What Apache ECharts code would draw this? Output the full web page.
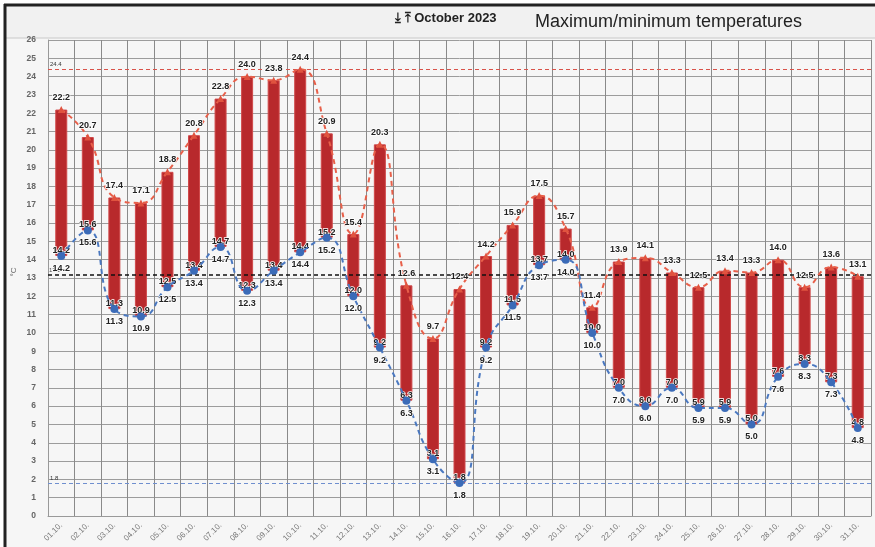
<!DOCTYPE html>
<html>
<head>
<meta charset="utf-8">
<script src="https://cdn.jsdelivr.net/npm/echarts@6/dist/echarts.min.js"></script>
<style>
html,body{margin:0;padding:0;background:#ffffff;}
#c{width:875px;height:547px;}
</style>
</head>
<body>
<div id="c"></div>
<script>
const categories = ["01.10.","02.10.","03.10.","04.10.","05.10.","06.10.","07.10.","08.10.","09.10.","10.10.","11.10.","12.10.","13.10.","14.10.","15.10.","16.10.","17.10.","18.10.","19.10.","20.10.","21.10.","22.10.","23.10.","24.10.","25.10.","26.10.","27.10.","28.10.","29.10.","30.10.","31.10."];
const maxTemps = [22.2,20.7,17.4,17.1,18.8,20.8,22.8,24.0,23.8,24.4,20.9,15.4,20.3,12.6,9.7,12.4,14.2,15.9,17.5,15.7,11.4,13.9,14.1,13.3,12.5,13.4,13.3,14.0,12.5,13.6,13.1];
const minTemps = [14.2,15.6,11.3,10.9,12.5,13.4,14.7,12.3,13.4,14.4,15.2,12.0,9.2,6.3,3.1,1.8,9.2,11.5,13.7,14.0,10.0,7.0,6.0,7.0,5.9,5.9,5.0,7.6,8.3,7.3,4.8];
const refMax = 24.4;
const refMin = 1.8;
const refMean = 13.2;
const yTicks = {min:0, max:26, interval:1};

const chart = echarts.init(document.getElementById('c'));
const ranges = maxTemps.map((v,i)=> +(v - minTemps[i]).toFixed(1));

const lblBold = {fontFamily:'Liberation Sans, Arial, sans-serif', fontWeight:'bold', fontSize:9, color:'#222'};

chart.setOption({
  animation:false,
  backgroundColor:'#ffffff',
  graphic:[
    {type:'rect', shape:{x:5,y:5,width:870,height:542}, style:{fill:'#f6f6f6'}, z:-10},
    {type:'rect', shape:{x:5,y:5,width:870,height:33}, style:{fill:'#f1f1f1'}, z:-9},
    {type:'line', shape:{x1:5,y1:38,x2:875,y2:38}, style:{stroke:'#c8c8c8',lineWidth:1}, z:-8},
    {type:'line', shape:{x1:4,y1:5,x2:875,y2:5}, style:{stroke:'#222',lineWidth:3}, z:50},
    {type:'line', shape:{x1:5,y1:4,x2:5,y2:547}, style:{stroke:'#222',lineWidth:3}, z:50},
    {type:'text', left:395, top:12, style:{text:'⤓ ⤒ October 2023', font:'bold 13px Liberation Sans, Arial, sans-serif', fill:'#222'}},
    {type:'text', left:535, top:13, style:{text:'Maximum/minimum temperatures', font:'18px Liberation Sans, Arial, sans-serif', fill:'#222'}},
    {type:'text', x:14, y:272, rotation:Math.PI/2, style:{text:'°C', font:'8px Liberation Sans, Arial, sans-serif', fill:'#666', align:'center', verticalAlign:'middle'}}
  ],
  grid:{left:48, right:4, top:40, bottom:31, show:false},
  xAxis:{
    type:'category', data:categories, boundaryGap:true,
    axisLine:{lineStyle:{color:'#999'}},
    axisTick:{show:false},
    splitLine:{show:true, interval:0, lineStyle:{color:'#8a8a8a', width:1}},
    axisLabel:{interval:0, rotate:45, fontSize:8, color:'#777', margin:8, fontFamily:'Liberation Sans, Arial, sans-serif'}
  },
  yAxis:{
    type:'value', min:yTicks.min, max:yTicks.max, interval:yTicks.interval,
    axisLine:{show:true, lineStyle:{color:'#999'}},
    axisTick:{show:false},
    splitLine:{lineStyle:{color:'#9c9c9c', width:1}},
    axisLabel:{fontSize:8.5, color:'#666', fontWeight:'bold', margin:12, fontFamily:'Liberation Sans, Arial, sans-serif'}
  },
  series:[
    {
      name:'base', type:'bar', stack:'t', data:minTemps, barWidth:12,
      itemStyle:{color:'transparent'}, silent:true
    },
    {
      name:'range', type:'bar', stack:'t', data:ranges, barWidth:12,
      itemStyle:{color:'#b8292c', borderColor:'#d0494a', borderWidth:1},
      label:{show:true, position:'insideBottom', distance:1,
        formatter:p=>minTemps[p.dataIndex].toFixed(1),
        ...lblBold, textBorderColor:'#ffffff', textBorderWidth:1.5}
    },
    {
      name:'max', type:'line', data:maxTemps, smooth:0.5,
      symbol:'triangle', symbolSize:7,
      itemStyle:{color:'#e0533f'},
      lineStyle:{color:'#e8604a', type:[5,4], width:2},
      label:{show:true, position:'top', distance:4, formatter:p=>p.value.toFixed(1), ...lblBold, textBorderColor:'#ffffff', textBorderWidth:1.5},
      z:5,
      markLine:{
        silent:true, symbol:'none',
        data:[
          {yAxis:refMax, lineStyle:{color:'#d9534a', type:[4,3], width:1}, label:{position:'insideStartTop', formatter:String(refMax), fontSize:6, color:'#333', distance:2}},
          {yAxis:refMean, lineStyle:{color:'#111', type:[4,3], width:1.5}, label:{position:'insideStartTop', formatter:String(refMean), fontSize:6, color:'#555', distance:1}},
          {yAxis:refMin, lineStyle:{color:'#6f8fcf', type:[4,3], width:1}, label:{position:'insideStartTop', formatter:String(refMin), fontSize:6, color:'#333', distance:2}}
        ]
      }
    },
    {
      name:'min', type:'line', data:minTemps, smooth:0.5,
      symbol:'circle', symbolSize:8,
      itemStyle:{color:'#3b6bb8'},
      lineStyle:{color:'#4a78c0', type:[5,4], width:2},
      label:{show:true, position:'bottom', distance:4, formatter:p=>p.value.toFixed(1), ...lblBold, textBorderColor:'#ffffff', textBorderWidth:1.5},
      z:6
    }
  ]
});
</script>
</body>
</html>
